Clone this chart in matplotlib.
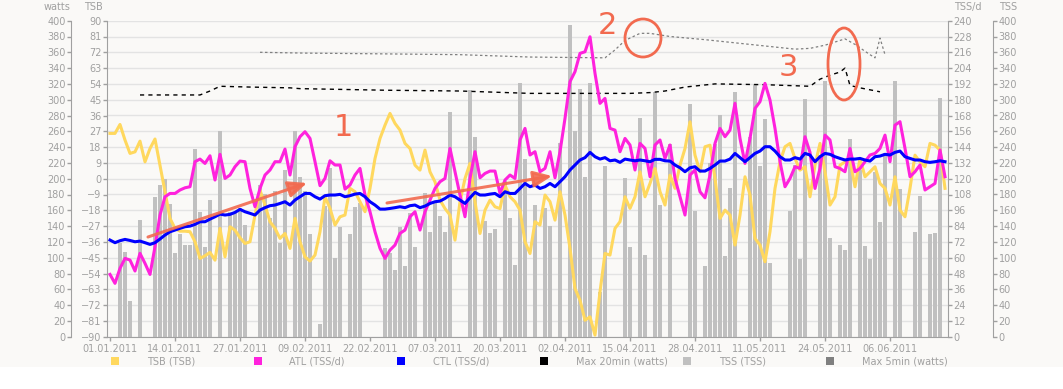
import matplotlib.pyplot as plt
import numpy as np
from matplotlib.patches import Rectangle, Ellipse, FancyArrowPatch

tick_labels = ['01.01.2011', '14.01.2011', '27.01.2011', '09.02.2011', '22.02.2011',
               '07.03.2011', '20.03.2011', '02.04.2011', '15.04.2011', '28.04.2011',
               '11.05.2011', '24.05.2011', '06.06.2011']

# daily TSS (0 = rest day)
tss = [0, 0, 119, 107, 45, 0, 148, 0, 0, 177,
       192, 200, 168, 106, 130, 116, 116, 238, 158, 114,
       173, 0, 261, 0, 158, 158, 163, 141, 0, 0,
       192, 180, 150, 185, 118, 211, 0, 261, 202, 184,
       130, 0, 16, 165, 214, 100, 139, 0, 130, 164,
       169, 0, 0, 0, 0, 112, 106, 84, 139, 89,
       156, 114, 0, 182, 133, 169, 153, 133, 284, 0,
       0, 0, 312, 253, 0, 146, 131, 136, 0, 197,
       150, 91, 321, 225, 0, 167, 0, 163, 140, 0,
       245, 0, 394, 260, 313, 202, 321, 0, 56, 216,
       0, 0, 0, 201, 113, 0, 277, 103, 0, 310,
       167, 0, 244, 0, 0, 0, 294, 159, 0, 89,
       220, 244, 281, 102, 188, 310, 0, 0, 253, 320,
       216, 275, 93, 0, 0, 0, 159, 217, 98, 301,
       0, 0, 230, 324, 125, 0, 116, 110, 250, 0,
       211, 115, 98, 208, 145, 232, 0, 324, 187, 0,
       0, 132, 178, 0, 130, 131, 302, 0]

tsb = [25.8, 25.8, 30.9, 22.0, 14.4, 15.3, 21.4, 9.6, 17.2, 22.6,
       7.7, -7.4, -22.6, -28.3, -29.9, -29.9, -30.2, -35.9, -45.4, -43.9,
       -42.0, -46.4, -28.3, -44.5, -27.4, -29.3, -33.6, -36.9, -35.9, -20.7,
       -6.5, -15.0, -24.5, -28.3, -34.0, -31.2, -39.7, -22.6, -35.9, -44.5,
       -46.9, -43.5, -30.2, -10.3, -16.9, -26.4, -21.7, -20.7, -5.5, -7.4,
       -13.1, -18.8, -5.5, 11.5, 22.9, 30.5, 37.2, 31.5, 27.7, 20.1,
       17.2, 7.7, 4.9, 16.3, 3.9, -1.8, -12.2, -17.0, -20.7, -35.0,
       -13.1, 0.1, 8.7, -13.1, -31.2, -17.9, -12.2, -16.0, -17.0, -3.6,
       -10.3, -13.1, -17.9, -35.9, -42.6, -24.5, -26.4, -9.3, -13.1, -23.6,
       -7.4, -20.7, -39.7, -62.5, -69.2, -80.6, -78.7, -89.1, -64.4, -42.6,
       -43.5, -28.3, -24.5, -10.3, -16.9, -10.3, 3.9, -10.3, -2.7, 5.8,
       -7.4, -15.0, 2.0, -5.5, 7.7, 17.2, 32.4, 13.4, 3.9, 18.2,
       19.1, 0.1, -22.6, -17.9, -20.7, -37.8, -20.7, 1.1, -9.3, -34.0,
       -37.8, -47.3, -30.2, -5.5, 9.6, 18.2, 20.1, 11.5, 4.9, 6.8,
       -10.3, 7.7, 20.1, 3.9, -15.0, -10.3, 7.7, 9.6, 10.6, -4.6,
       11.5, 1.1, 3.9, 6.8, -2.7, -5.5, -15.0, 1.1, -17.9, -21.7,
       -5.5, 13.4, 9.6, 6.8, 20.1, 19.1, 16.3, -5.5]

atl = [47.3, 40.5, 51.9, 59.5, 58.2, 49.9, 63.3, 55.7, 47.3, 68.3,
       92.4, 106.3, 108.8, 108.8, 111.4, 113.1, 113.9, 132.9, 134.9, 131.6,
       137.4, 119.0, 138.5, 120.2, 122.8, 129.1, 133.4, 132.9, 112.6, 98.7,
       112.6, 122.8, 126.6, 132.9, 132.9, 142.5, 122.8, 144.3, 151.9, 155.7,
       150.6, 132.9, 114.7, 120.2, 133.6, 130.4, 130.4, 112.1, 115.2, 122.8,
       127.8, 107.6, 94.9, 79.7, 67.1, 59.5, 65.8, 69.6, 78.5, 81.0,
       91.1, 94.9, 81.0, 94.9, 103.8, 112.6, 117.7, 120.2, 143.0, 125.3,
       107.6, 91.1, 120.2, 140.5, 120.7, 124.0, 125.8, 125.8, 108.8, 119.0,
       122.8, 120.2, 149.4, 158.2, 138.0, 140.5, 125.3, 127.8, 140.5, 120.7,
       140.5, 165.8, 193.7, 201.3, 215.2, 216.4, 227.8, 200.0, 177.2, 181.0,
       158.2, 156.9, 140.5, 150.6, 145.6, 126.6, 146.8, 143.0, 121.5, 145.6,
       149.4, 135.4, 145.6, 120.2, 106.3, 92.4, 122.8, 126.6, 110.1, 105.5,
       122.8, 146.8, 158.2, 151.9, 156.9, 177.2, 150.6, 131.6, 150.6, 173.4,
       178.5, 192.4, 179.7, 158.2, 132.9, 113.9, 120.2, 129.1, 127.8, 151.9,
       140.0, 112.6, 127.8, 153.1, 149.4, 129.1, 127.8, 125.3, 143.0, 125.3,
       127.8, 132.9, 138.0, 139.2, 143.0, 153.1, 132.9, 160.7, 163.3, 143.0,
       121.5, 125.3, 130.4, 111.4, 113.9, 116.4, 141.8, 121.5]

ctl = [73.4, 71.4, 72.9, 73.9, 73.1, 72.1, 72.6, 71.4, 70.1, 71.4,
       74.2, 77.2, 79.7, 81.0, 82.3, 83.5, 84.0, 85.3, 87.3, 87.3,
       89.3, 91.1, 93.1, 92.4, 92.9, 94.4, 96.7, 94.9, 93.7, 92.4,
       96.2, 98.0, 99.5, 100.0, 101.2, 102.5, 100.0, 103.8, 106.3, 108.8,
       108.8, 106.3, 104.5, 107.1, 107.6, 107.6, 108.1, 106.3, 107.1, 108.3,
       108.8, 106.3, 102.5, 100.0, 96.9, 96.9, 97.4, 98.0, 98.7, 98.0,
       99.5, 100.0, 98.0, 99.2, 101.2, 102.5, 103.0, 105.0, 107.6, 106.3,
       103.8, 101.2, 105.5, 109.6, 107.6, 107.6, 108.3, 108.8, 106.3, 110.1,
       108.8, 108.8, 112.6, 116.4, 113.9, 115.2, 112.6, 113.9, 116.4, 113.9,
       117.7, 121.5, 126.6, 130.4, 134.2, 136.0, 140.0, 136.7, 134.9, 136.0,
       133.6, 134.2, 132.4, 134.9, 134.2, 133.6, 134.2, 133.6, 132.9, 134.7,
       134.7, 133.6, 133.4, 130.4, 128.3, 125.3, 128.3, 129.1, 125.8, 125.8,
       127.8, 130.4, 133.4, 133.4, 134.9, 139.2, 136.0, 132.9, 136.0, 139.2,
       141.0, 144.3, 144.3, 141.0, 136.7, 134.2, 134.2, 136.0, 134.9, 139.2,
       138.0, 132.9, 136.7, 139.2, 138.5, 136.7, 135.4, 134.2, 134.9, 134.9,
       135.4, 134.2, 133.4, 136.7, 137.2, 138.5, 138.0, 140.0, 141.0, 136.7,
       135.4, 134.2, 134.2, 132.9, 132.4, 132.9, 133.6, 132.9]

max20_days = [6, 18, 20, 22, 28, 36, 38, 55, 70, 84, 104, 108, 111, 115, 121, 131,
              140, 142, 144, 146, 147, 148, 150, 154]
max20 = [306, 306, 311, 317, 316, 315, 314, 312, 311, 308, 308, 309, 311, 316, 320, 319,
         317, 326, 331, 335, 340, 318, 315, 310]

max5_days = [30, 39, 55, 70, 84, 99, 101, 103, 106, 108, 112, 119, 131, 137, 140, 143,
             147, 149, 152, 153, 154, 155]
max5 = [360, 359, 358, 357, 354, 353, 363, 375, 384, 384, 380, 376, 368, 364, 365, 369,
        377, 370, 357, 353, 378, 357]

W, H = 1063, 389
GREY = '#a0a0a0'
RED = '#f26a4f'
PT = 0.72  # px -> pt at 100 dpi


def fx(x):
    return x / W


def fy(y):
    return 1 - y / H


fig = plt.figure(figsize=(W / 100, H / 100), dpi=100)
fig.patch.set_facecolor('white')
fig.add_artist(Rectangle((0, fy(367)), 1, 367 / H, transform=fig.transFigure,
                         facecolor='#faf9f7', edgecolor='none', zorder=-10))

ax_tss = fig.add_axes([fx(107), fy(336.7), (948 - 107) / W, (336.7 - 20.7) / H])
ax_tss.set_facecolor('none')
ax_w = ax_tss.twinx()
ax_tsb = ax_tss.twinx()
ax_atl = ax_tss.twinx()

days = np.arange(len(tss))
ax_tss.bar(days, tss, width=0.8, color='#c0c0c0', zorder=2)
ax_tss.set_ylim(0, 400)
ax_tss.set_yticks(np.arange(0, 401, 20))
ax_tss.yaxis.grid(True, color='#e3e3e3', lw=1)
ax_tss.set_axisbelow(True)
ax_tss.set_xlim(-0.6, 167.6)
ax_tss.set_xticks(np.arange(0, 13 * len(tick_labels), 13))
ax_tss.set_xticklabels(tick_labels)

ax_w.plot(max20_days, max20, color='black', lw=1, ls=(0, (3, 3)))
ax_w.plot(max5_days, max5, color='#808080', lw=0.9, ls=(0, (2, 2)))
ax_w.set_ylim(0, 400)
ax_w.set_yticks(np.arange(0, 401, 20))

ax_tsb.plot(np.arange(len(tsb)), tsb, color='#ffd85e', lw=2.2, solid_joinstyle='round')
ax_tsb.set_ylim(-90, 90)
ax_tsb.set_yticks(np.arange(-90, 91, 9))

ax_atl.plot(np.arange(len(atl)), atl, color='#ff22dd', lw=2.2, solid_joinstyle='round')
ax_atl.plot(np.arange(len(ctl)), ctl, color='#0000ff', lw=2.2, solid_joinstyle='round')
ax_atl.set_ylim(0, 240)
ax_atl.set_yticks(np.arange(0, 241, 12))

for a in (ax_tss, ax_w, ax_tsb, ax_atl):
    for s in a.spines.values():
        s.set_visible(False)
        s.set_color(GREY)
    a.tick_params(axis='y', colors=GREY, labelsize=7, length=3, width=1, pad=1)

ax_tss.yaxis.tick_right()
ax_tss.spines['right'].set_visible(True)
ax_tss.spines['right'].set_position(('outward', 45 * PT))
ax_tss.spines['bottom'].set_visible(True)
ax_tss.tick_params(axis='x', colors=GREY, labelsize=7, length=3, width=1, pad=2)

ax_w.yaxis.tick_left()
ax_w.spines['left'].set_visible(True)
ax_w.spines['left'].set_position(('outward', 36 * PT))

ax_tsb.yaxis.tick_left()
ax_tsb.spines['left'].set_visible(True)

ax_atl.yaxis.tick_right()
ax_atl.spines['right'].set_visible(True)

# axis headers
for txt, x in [('watts', 57), ('TSB', 93), ('TSS/d', 968), ('TSS', 1008)]:
    fig.text(fx(x), fy(7), txt, ha='center', va='center', fontsize=7, color=GREY)

# legend row
legend = [('TSB (TSB)', '#ffd85e', 111, 147), ('ATL (TSS/d)', '#ff22dd', 254, 289),
          ('CTL (TSS/d)', '#0000ff', 397, 433), ('Max 20min (watts)', 'black', 540, 576),
          ('TSS (TSS)', '#c0c0c0', 683, 719), ('Max 5min (watts)', '#808080', 826, 862)]
for name, col, sx, tx in legend:
    fig.add_artist(Rectangle((fx(sx), fy(365)), 8 / W, 8 / H, transform=fig.transFigure,
                             facecolor=col, edgecolor='none'))
    fig.text(fx(tx), fy(361), name, ha='left', va='center', fontsize=7, color=GREY)

# hand-drawn annotations
for x0, y0, x1, y1 in [(148, 237, 307, 183), (387, 203, 552, 176)]:
    fig.add_artist(FancyArrowPatch((fx(x0), fy(y0)), (fx(x1), fy(y1)), transform=fig.transFigure,
                                   arrowstyle='-|>,head_length=0.8,head_width=0.35',
                                   mutation_scale=14, color=RED, lw=2.2,
                                   shrinkA=0, shrinkB=0, alpha=0.9))
for txt, x, y in [('1', 343, 128), ('2', 607, 26), ('3', 788, 68)]:
    fig.text(fx(x), fy(y), txt, ha='center', va='center', fontsize=22, color=RED)
fig.add_artist(Ellipse((fx(643), fy(38)), 36 / W, 38 / H, transform=fig.transFigure,
                       fill=False, edgecolor=RED, lw=2))
fig.add_artist(Ellipse((fx(844), fy(64)), 32 / W, 72 / H, transform=fig.transFigure,
                       fill=False, edgecolor=RED, lw=2))

fig.savefig('out.png', dpi=100, facecolor=fig.get_facecolor())
